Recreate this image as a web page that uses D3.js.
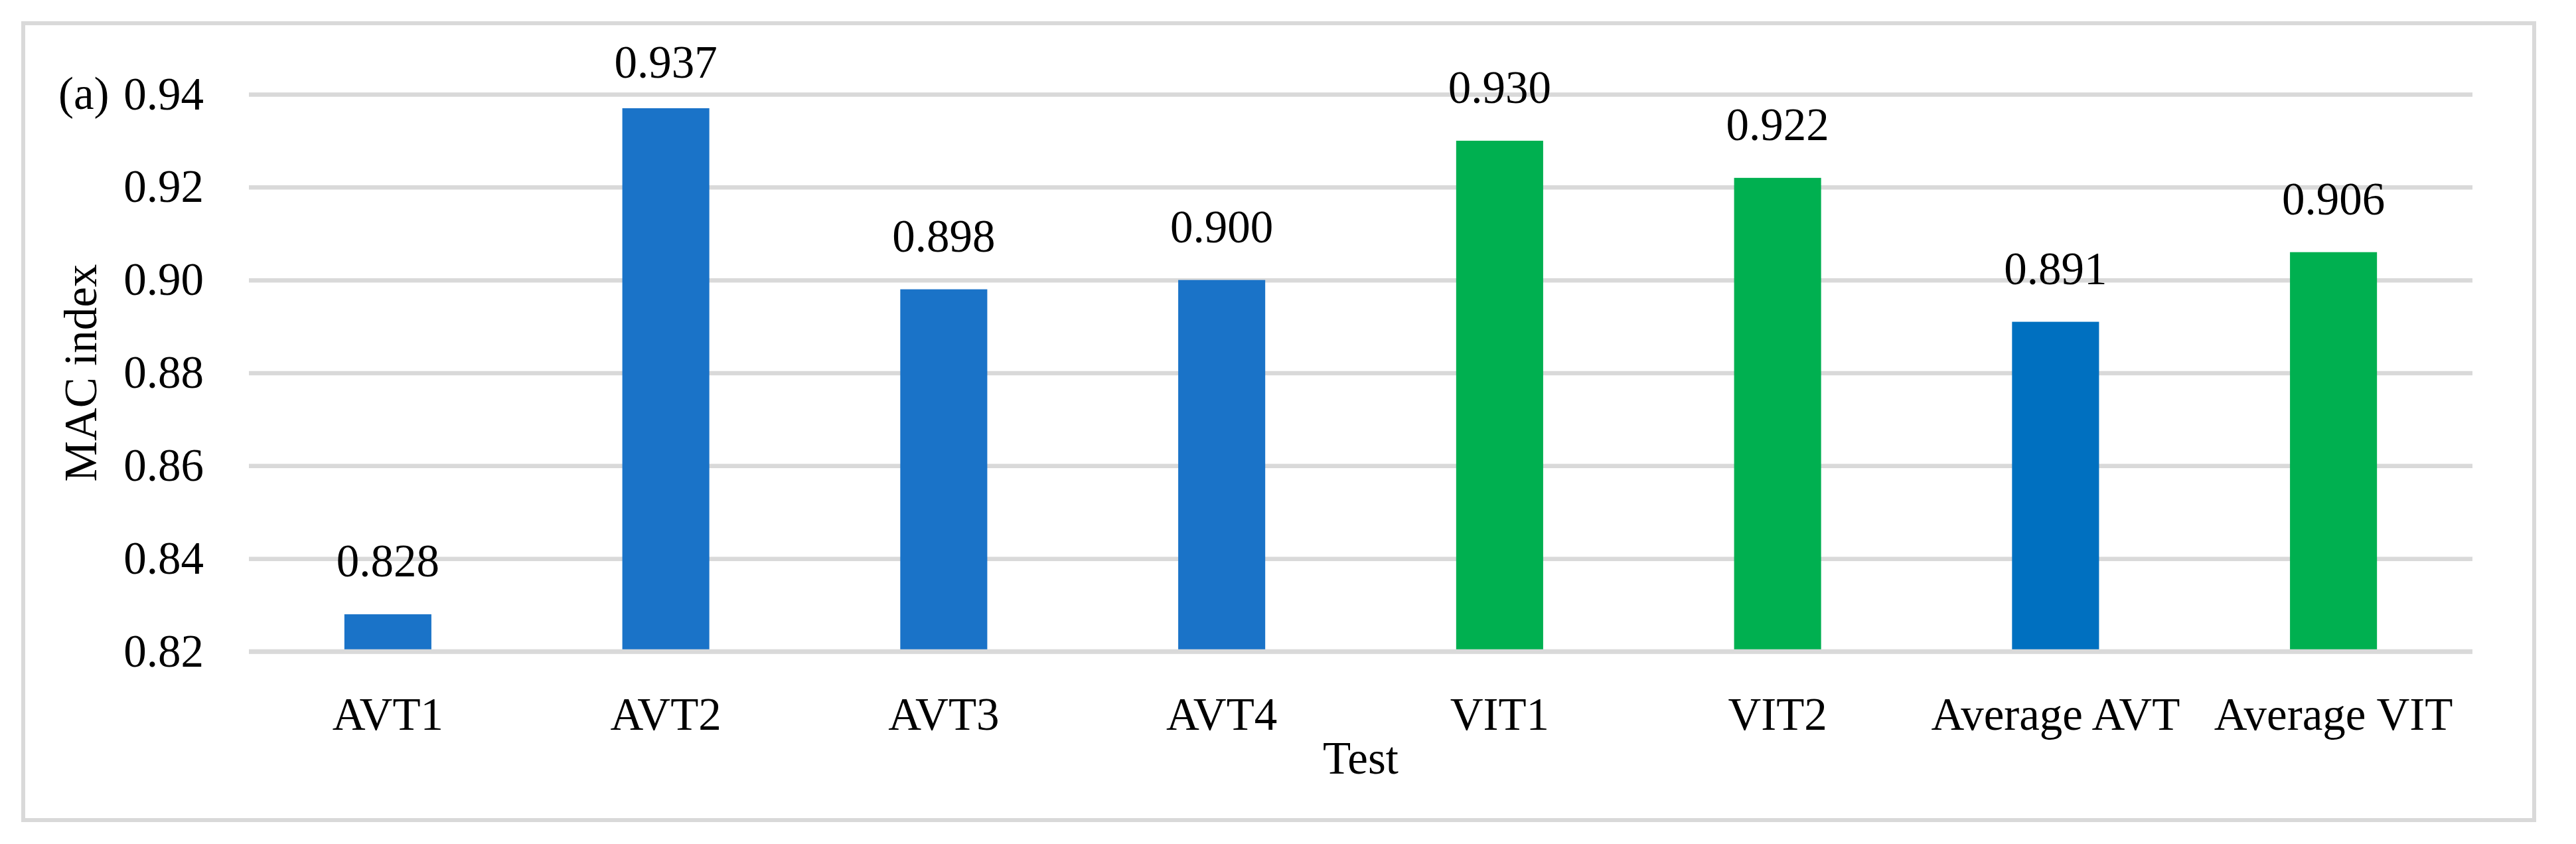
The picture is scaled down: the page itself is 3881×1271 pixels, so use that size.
<!DOCTYPE html>
<html>
<head>
<meta charset="utf-8">
<script src="https://cdn.jsdelivr.net/npm/d3@7/dist/d3.min.js"></script>
<style>
  html, body { margin: 0; padding: 0; background: #ffffff; }
  svg text { font-family: "Liberation Serif", "Times New Roman", serif; fill: #000; }
</style>
</head>
<body>
<svg id="chart" width="3881" height="1271"></svg>
<script>
// ---- data ----
const categories = ["AVT1", "AVT2", "AVT3", "AVT4", "VIT1", "VIT2", "Average AVT", "Average VIT"];
const macValues = [0.828, 0.937, 0.898, 0.900, 0.930, 0.922, 0.891, 0.906];
const barGroups = ["AVT", "AVT", "AVT", "AVT", "VIT", "VIT", "AVG_AVT", "VIT"];
const yTicks = [0.82, 0.84, 0.86, 0.88, 0.90, 0.92, 0.94];
const yDomain = [0.82, 0.94];
const panelLabel = "(a)";
const yTitle = "MAC index";
const xTitle = "Test";

// ---- layout ----
const W = 3881, H = 1271;
const plotLeft = 375, plotRight = 3725, plotTop = 142, plotBottom = 981;
const fontSize = 69;
const colorMap = { AVT: "#1a73c8", AVG_AVT: "#0070c0", VIT: "#00b050" };
const gridColor = "#d9d9d9";

const svg = d3.select("#chart");
svg.append("rect").attr("x", 0).attr("y", 0).attr("width", W).attr("height", H).attr("fill", "#fff");

// outer frame
svg.append("rect")
  .attr("x", 35).attr("y", 35).attr("width", 3818 - 35).attr("height", 1235 - 35)
  .attr("fill", "none").attr("stroke", gridColor).attr("stroke-width", 6);

const x = d3.scaleBand().domain(categories).range([plotLeft, plotRight])
  .paddingInner(0.687).paddingOuter(0.3435);
const y = d3.scaleLinear().domain(yDomain).range([plotBottom, plotTop]);

// y axis with gridlines
const yAxis = svg.append("g")
  .attr("transform", `translate(${plotLeft},0)`)
  .call(d3.axisLeft(y).tickValues(yTicks).tickFormat(d3.format(".2f"))
    .tickSizeInner(-(plotRight - plotLeft)).tickSizeOuter(0).tickPadding(68));
yAxis.select(".domain").remove();
yAxis.selectAll(".tick line").attr("stroke", gridColor).attr("stroke-width", 6.5);
yAxis.selectAll(".tick text").attr("font-size", fontSize)
  .style("font-family", '"Liberation Serif", serif');

// bars
const data = categories.map((c, i) => ({ cat: c, v: macValues[i], g: barGroups[i] }));
svg.append("g").selectAll("rect").data(data).join("rect")
  .attr("x", d => x(d.cat))
  .attr("width", x.bandwidth())
  .attr("y", d => y(d.v))
  .attr("height", d => y(yDomain[0]) - y(d.v))
  .attr("fill", d => colorMap[d.g]);

// baseline drawn over bars
svg.append("line")
  .attr("x1", plotLeft).attr("x2", plotRight)
  .attr("y1", y(yDomain[0])).attr("y2", y(yDomain[0]))
  .attr("stroke", gridColor).attr("stroke-width", 6.5);

// x axis labels
const xAxis = svg.append("g")
  .attr("transform", `translate(0,${plotBottom})`)
  .call(d3.axisBottom(x).tickSize(0).tickPadding(69));
xAxis.select(".domain").remove();
xAxis.selectAll(".tick text").attr("font-size", fontSize)
  .style("font-family", '"Liberation Serif", serif');

// value labels
svg.append("g").selectAll("text").data(data).join("text")
  .attr("x", d => x(d.cat) + x.bandwidth() / 2)
  .attr("y", d => Math.max(y(d.v) - 57, plotTop - 25))
  .attr("text-anchor", "middle")
  .attr("font-size", fontSize)
  .text(d => d3.format(".3f")(d.v));

// panel label
svg.append("text")
  .attr("x", 88).attr("y", y(yTicks[yTicks.length - 1])).attr("dy", "0.32em")
  .attr("font-size", fontSize).text(panelLabel);

// y title
svg.append("text")
  .attr("transform", `translate(145,${(plotTop + plotBottom) / 2}) rotate(-90)`)
  .attr("text-anchor", "middle")
  .attr("font-size", fontSize).text(yTitle);

// x title
svg.append("text")
  .attr("x", (plotLeft + plotRight) / 2).attr("y", 1165)
  .attr("text-anchor", "middle")
  .attr("font-size", fontSize).text(xTitle);
</script>
</body>
</html>
